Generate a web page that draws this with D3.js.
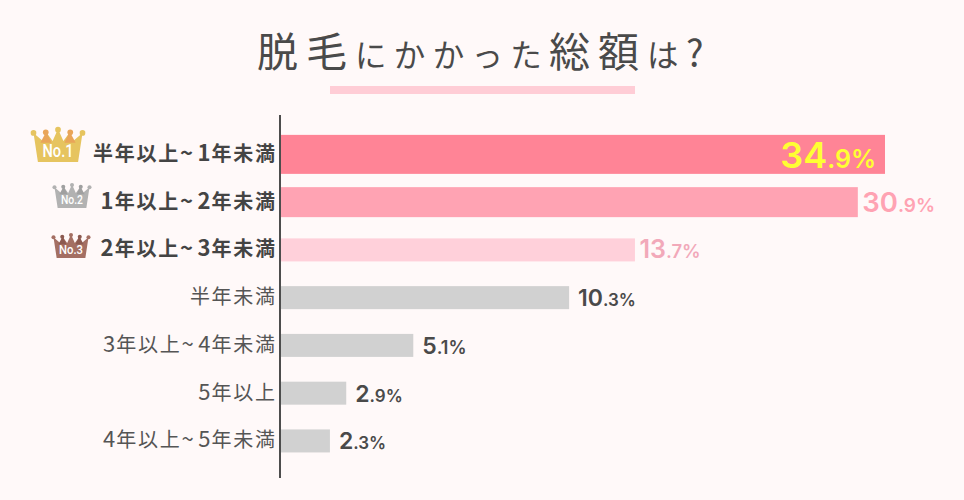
<!DOCTYPE html>
<html><head><meta charset="utf-8">
<script src="https://cdn.jsdelivr.net/npm/d3@7"></script>
<style>html,body{margin:0;padding:0;background:#fff9f9}svg{display:block}</style></head>
<body><svg id="c" width="964" height="500"></svg>
<script>
const titleText = "脱毛にかかった総額は?";
const categories = ["半年以上~1年未満","1年以上~2年未満","2年以上~3年未満","半年未満","3年以上~4年未満","5年以上","4年以上~5年未満"];
const percentInt = ["34",  "30",  "13",  "10",  "5",   "2",   "2"];
const percentDec = [".9%", ".9%", ".7%", ".3%", ".1%", ".9%", ".3%"];
// Bar lengths as drawn in the picture (the source art is not proportional), % of the longest bar
const drawnLength = [100, 95.5, 58.6, 47.7, 21.9, 10.8, 8.1];
const rankLabels = ["No.1","No.2","No.3"];

const svg = d3.select("#c");
const ink = "#4a4a4a";
const jp = "'Noto Sans CJK JP','Noto Sans',sans-serif";
const num = "Inter,'Liberation Sans',Arial,sans-serif";

const x = d3.scaleLinear().domain([0,100]).range([281,885]);
const y = d3.scaleBand().domain(categories).range([130.5,464.8]);
const cy = d => y(d)+y.bandwidth()/2;
const barH = i => [39,30,23,23,23,23,23][i];
const barFill = i => ["#ff8496","#ffa3b3","#ffd0da","#d1d1d1","#d1d1d1","#d1d1d1","#d1d1d1"][i];

// title: kanji larger than kana, wide tracking
const isHan = c => /\p{Script=Han}/u.test(c);
const title = svg.append("text").attr("x",257).attr("y",67).attr("font-family",jp).attr("fill",ink);
title.selectAll("tspan").data(Array.from(titleText)).join("tspan")
  .attr("font-size",c=>isHan(c)?41:c==="?"?37:31.5)
  .attr("letter-spacing",c=>isHan(c)?8:7.3)
  .text(c=>c);
svg.append("rect").attr("x",330).attr("y",86).attr("width",305).attr("height",8).attr("fill","#ffcdd6");

svg.append("g").selectAll("rect").data(categories).join("rect")
  .attr("x",x(0)).attr("y",(d,i)=>cy(d)-barH(i)/2)
  .attr("width",(d,i)=>x(drawnLength[i])-x(0)).attr("height",(d,i)=>barH(i)).attr("fill",(d,i)=>barFill(i));

svg.append("line").attr("x1",280).attr("x2",280).attr("y1",115).attr("y2",478).attr("stroke","#4d4d4d").attr("stroke-width",2);

const cat = svg.append("g").selectAll("text").data(categories).join("text")
  .attr("x",276.7).attr("y",d=>cy(d)+6.5).attr("text-anchor","end")
  .attr("font-family",jp).attr("font-size",20)
  .attr("font-weight",(d,i)=>i<3?700:400)
  .attr("fill",(d,i)=>i<3?"#444":"#555");
cat.selectAll("tspan").data(d=>Array.from(d)).join("tspan")
  .attr("font-size",c=>isHan(c)?20:22)
  .attr("letter-spacing",c=>isHan(c)?1.7:c==="~"?4.5:1.2)
  .text(c=>c);

const valCol = i => i===0?"#ffff33":i===1?"#ffa3b3":i===2?"#f2a9ba":"#4a4a4a";
const valG = svg.append("g").selectAll("text").data(categories).join("text")
  .attr("x",(d,i)=> i===0 ? x(drawnLength[0])-9 : x(drawnLength[i])+(i<3?4.5:9))
  .attr("text-anchor",(d,i)=>i===0?"end":"start")
  .attr("y",(d,i)=>cy(d)+(i===0?13.5:i===1?9.5:8.5))
  .attr("font-family",num).attr("fill",(d,i)=>valCol(i));
valG.append("tspan").attr("font-weight",600).attr("font-size",(d,i)=>[36,27.5,25,23,23,23,23][i]).text((d,i)=>percentInt[i]);
valG.append("tspan").attr("font-weight",600).attr("font-size",(d,i)=>[25,19,18.5,17,18,17,17][i]).text((d,i)=>percentDec[i]);

// crowns
const crownCfg = [{cx:58,top:129,w:49,h:33,fill:"#e6c45f",tip:"#e9a559",fs:17.5,tw:31},
                  {cx:72,top:184.5,w:35,h:23.5,fill:"#b2b2b2",tip:"#a0a0a0",fs:12.5,tw:22},
                  {cx:71,top:234.5,w:35,h:23.5,fill:"#a46f63",tip:"#8c5a50",fs:13.5,tw:24}];
const line = d3.line().curve(d3.curveLinear);
const crowns = svg.append("g").selectAll("g").data(rankLabels).join("g")
  .attr("transform",(d,i)=>`translate(${crownCfg[i].cx},${crownCfg[i].top})`);
const sx = i=>d3.scaleLinear().domain([-1,1]).range([-crownCfg[i].w/2,crownCfg[i].w/2]);
const sy = i=>d3.scaleLinear().domain([0,1]).range([0,crownCfg[i].h]);
const outline = [[-1,.12],[-.82,1],[.82,1],[1,.12],[.62,.36],[.48,.1],[.22,.36],[0,0],[-.22,.36],[-.48,.1],[-.62,.36]];
const backTips = [[-.72,.42],[-.48,.08],[-.26,.42]];
const backTips2 = [[.72,.42],[.48,.08],[.26,.42]];
const knobs = [[-1,.12],[-.5,.1],[0,.02],[.5,.1],[1,.12]];
crowns.each(function(d,i){
  const g = d3.select(this), c = crownCfg[i], X = sx(i), Y = sy(i);
  g.append("path").attr("fill",c.fill).attr("d",line(outline.map(p=>[X(p[0]),Y(p[1])]))+"Z");
  [backTips,backTips2].forEach(t=>g.append("path").attr("fill",c.tip).attr("d",line(t.map(p=>[X(p[0]),Y(p[1])]))+"Z"));
  g.selectAll("circle").data(knobs).join("circle")
    .attr("cx",k=>X(k[0])).attr("cy",k=>Y(k[1])).attr("r",c.w*.058)
    .attr("fill",(k,j)=>j%2?c.tip:c.fill);
  g.append("text").attr("text-anchor","middle").attr("y",c.h*.84)
    .attr("font-family","Roboto,'Open Sans',sans-serif").attr("font-weight",500)
    .attr("font-size",c.fs).attr("fill","#fff").attr("textLength",c.tw)
    .attr("lengthAdjust","spacingAndGlyphs").text(d);
});
</script></body></html>
